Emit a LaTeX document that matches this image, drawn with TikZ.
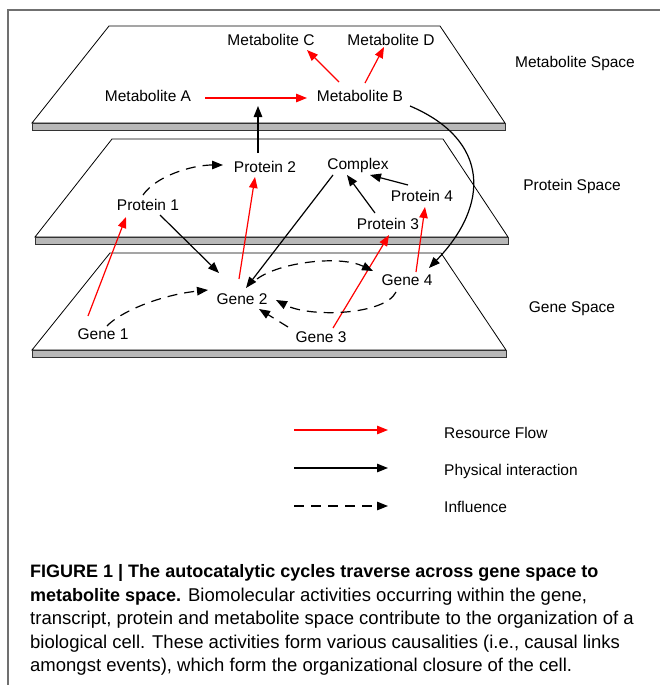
\documentclass[tikz,border=0pt]{standalone}
\usepackage{fontspec}
\setmainfont{Liberation Sans}
\usetikzlibrary{arrows.meta,calc}
\definecolor{framegray}{HTML}{707070}
\definecolor{slabgray}{HTML}{B8B8B8}
\newcommand{\capbold}[1]{{\fontsize{18}{23}\selectfont\bfseries #1}}
\begin{document}
\begin{tikzpicture}[x=1pt,y=-1pt,
  lbl/.style={font=\fontsize{15.5}{18}\selectfont, inner sep=0pt},
  captionline/.style={font=\fontsize{18.5}{23}\selectfont, inner sep=0pt, anchor=base west},
  tipstyle/.style={-{Triangle[length=11pt,width=8.5pt]}},
  res/.style={tipstyle, draw=red, fill=none, line width=1.2pt},
  phys/.style={tipstyle, draw=black, line width=1.2pt},
  infl/.style={tipstyle, draw=black, line width=1.2pt, dash pattern=on 10pt off 7pt},
  plane/.style={draw=black, fill=white, line width=0.8pt},
  slab/.style={draw=black!80, fill=slabgray, line width=0.9pt}]
\useasboundingbox (0,0) rectangle (660,685);
% frame
\draw[framegray, line width=1.5pt] (8,685) -- (8,10) -- (660,10);
% planes
\draw[plane] (109,26) -- (440,26) -- (505,123) -- (32,123) -- cycle;
\draw[slab] (32,123) rectangle (505,130);
\draw[plane] (112,139) -- (443,139) -- (508,237) -- (35,237) -- cycle;
\draw[slab] (35,237) rectangle (508,244);
\draw[plane] (110,253) -- (441,253) -- (506,350) -- (32,350) -- cycle;
\draw[slab] (32,350) rectangle (506,357);
% nodes
\node[lbl] (mA) at (148,96) {Metabolite A};
\node[lbl] (mB) at (360,96) {Metabolite B};
\node[lbl] (mC) at (271,40) {Metabolite C};
\node[lbl] (mD) at (391,40) {Metabolite D};
\node[lbl] (p2) at (265,167) {Protein 2};
\node[lbl] (cx) at (358,165) {Complex};
\node[lbl] (p1) at (148,205) {Protein 1};
\node[lbl] (p4) at (422,196) {Protein 4};
\node[lbl] (p3) at (388,224) {Protein 3};
\node[lbl] (g2) at (242,299) {Gene 2};
\node[lbl] (g4) at (407,280) {Gene 4};
\node[lbl] (g1) at (103,334) {Gene 1};
\node[lbl] (g3) at (321,337) {Gene 3};
\node[lbl] (ms) at (575,63) {Metabolite Space};
\node[lbl] (ps) at (572,186) {Protein Space};
\node[lbl] (gs) at (572,309) {Gene Space};
\coordinate (up) at (258,106);
% metabolite space
\draw[res] ([shift={(57,2)}]mA.center) -- ([shift={(-53,2)}]mB.center);
\draw[res] ([shift={(-21,-14)}]mB.center) -- ([shift={(36,10)}]mC.center);
\draw[res] ([shift={(5,-13)}]mB.center) -- ([shift={(-7,7)}]mD.center);
\draw[phys] ([shift={(-7,-14)}]p2.center) -- (up);
\draw[phys] ([shift={(50,10)}]mB.center) .. controls (490,140) and (490,205) .. ([shift={(22,-12)}]g4.center);
% protein space
\draw[infl] ([shift={(-5,-10)}]p1.center) .. controls (156,176) and (192,165) .. ([shift={(-42,-2)}]p2.center);
\draw[res] ([shift={(-3,-20)}]g2.center) -- ([shift={(-10,10)}]p2.center);
\draw[phys] ([shift={(-25,10)}]cx.center) -- ([shift={(4,-11)}]g2.center);
\draw[phys] ([shift={(-13,-11)}]p3.center) -- ([shift={(-11,10)}]cx.center);
\draw[phys] ([shift={(-14,-11)}]p4.center) -- ([shift={(12,10)}]cx.center);
\draw[res] ([shift={(-15,-18)}]g1.center) -- ([shift={(-22,12)}]p1.center);
\draw[phys] ([shift={(12,10)}]p1.center) -- ([shift={(-23,-26)}]g2.center);
\draw[res] ([shift={(12,-9)}]g3.center) -- ([shift={(1,11)}]p3.center);
\draw[res] ([shift={(9,-8)}]g4.center) -- ([shift={(3,11)}]p4.center);
% gene space
\draw[infl] ([shift={(4,-8)}]g1.center) .. controls (120,312) and (160,295) .. ([shift={(-34,-9)}]g2.center);
\draw[infl] ([shift={(15,-20)}]g2.center) .. controls (280,262) and (340,255) .. ([shift={(-34,-9)}]g4.center);
\draw[infl] ([shift={(-11,12)}]g4.center) .. controls (385,315) and (310,318) .. ([shift={(34,1)}]g2.center);
\draw[infl] ([shift={(-33,-10)}]g3.center) -- ([shift={(17,10)}]g2.center);
% legend
\coordinate (l1s) at (294,430); \coordinate (l1e) at (388,430);
\coordinate (l2s) at (294,468); \coordinate (l2e) at (388,468);
\coordinate (l3s) at (294,506); \coordinate (l3e) at (388,506);
\draw[res] (l1s) -- (l1e);
\draw[phys] (l2s) -- (l2e);
\draw[infl] (l3s) -- (l3e);
\node[lbl, anchor=west] (t1) at (444,433) {Resource Flow};
\node[lbl, anchor=west] (t2) at (444,471) {Physical interaction};
\node[lbl, anchor=west] (t3) at (444,507) {Influence};
% caption
\node[captionline] (c1) at (30,577) {\capbold{FIGURE 1 | The autocatalytic cycles traverse across gene space to}};
\node[captionline] (c2) at (30,601) {\capbold{metabolite space.} Biomolecular activities occurring within the gene,};
\node[captionline] (c3) at (30,624) {transcript, protein and metabolite space contribute to the organization of a};
\node[captionline] (c4) at (30,648) {biological cell. These activities form various causalities (i.e., causal links};
\node[captionline] (c5) at (30,671) {amongst events), which form the organizational closure of the cell.};
\end{tikzpicture}
\end{document}
